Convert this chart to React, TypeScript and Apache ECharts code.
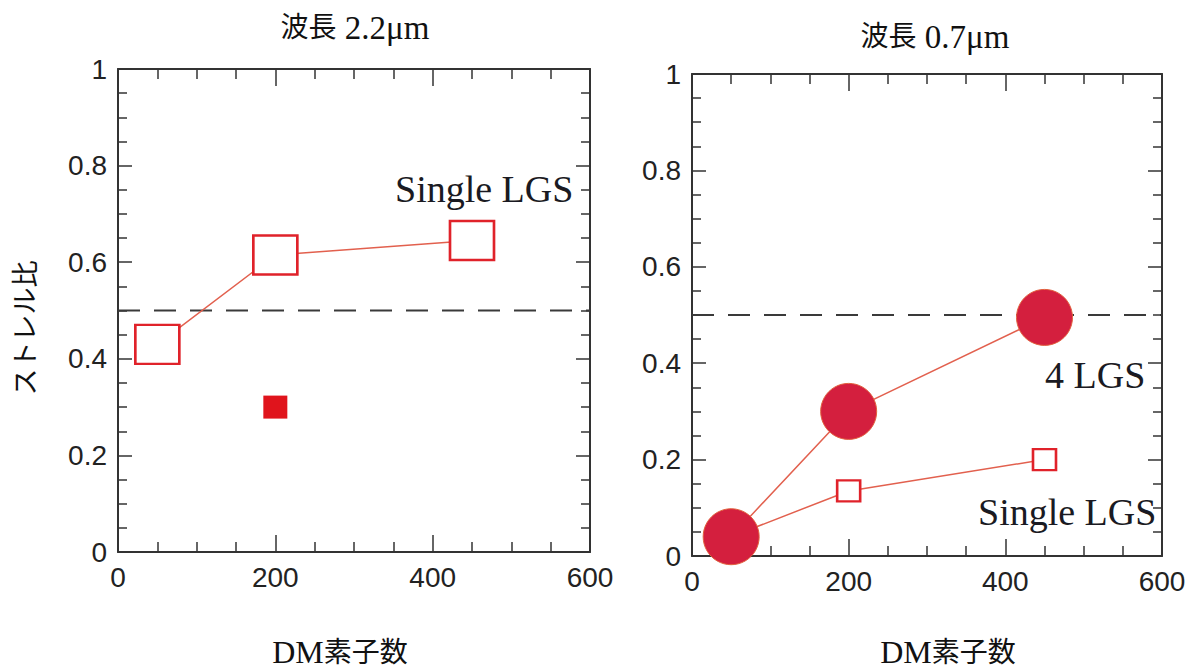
import React, { useEffect, useRef } from "react";
import * as echarts from "echarts";

// ---- data ----
const dmCounts = [50, 200, 450];
const strehl22Single = [0.43, 0.615, 0.645];
const strehl22FilledX = [200];
const strehl22Filled = [0.3];
const strehl07Four = [0.04, 0.3, 0.495];
const strehl07Single = [0.04, 0.135, 0.2];
const referenceStrehl = 0.5;
const xMin = 0, xMax = 600, xStep = 200;
const yMin = 0, yMax = 1, yStep = 0.2;
const titleWord = "波長";
const wavelengths = ["2.2μm", "0.7μm"];
const xName = "DM素子数";
const yName = "ストレル比";
const labels = ["Single LGS", "4 LGS", "Single LGS"];

const SERIF = "'Liberation Serif', 'Noto Sans CJK JP', serif";
const SANS = "'Liberation Sans', Arial, sans-serif";
const FRAME = "#333";
const OPEN_RED = "#e0222a";
const LINE_RED = "#e2604e";
const CRIMSON = "#d41f3e";

function pairs(xs: number[], ys: number[]) {
  return xs.map((x, i) => [x, ys[i]]);
}

function xAxis(grid: number, pos: "bottom" | "top") {
  const bottom = pos === "bottom";
  return {
    type: "value",
    gridIndex: grid,
    position: pos,
    min: xMin,
    max: xMax,
    interval: xStep,
    axisLine: { show: true, onZero: false, lineStyle: { color: FRAME, width: 2 } },
    axisTick: { show: true, inside: true, length: 17, lineStyle: { color: FRAME, width: 1.5 } },
    minorTick: { show: true, splitNumber: 4, length: 10, lineStyle: { color: FRAME, width: 1.5 } },
    axisLabel: { show: bottom, fontFamily: SANS, fontSize: 28, color: "#222", margin: 11 },
    splitLine: { show: false },
    minorSplitLine: { show: false },
  };
}

function yAxis(grid: number, pos: "left" | "right") {
  const left = pos === "left";
  return {
    type: "value",
    gridIndex: grid,
    position: pos,
    min: yMin,
    max: yMax,
    interval: yStep,
    axisLine: { show: true, onZero: false, lineStyle: { color: FRAME, width: 2 } },
    axisTick: { show: true, inside: true, length: 14, lineStyle: { color: FRAME, width: 1.5 } },
    minorTick: { show: true, splitNumber: 4, length: 9, lineStyle: { color: FRAME, width: 1.5 } },
    axisLabel: { show: left, fontFamily: SANS, fontSize: 28, color: "#222", margin: 11 },
    splitLine: { show: false },
    minorSplitLine: { show: false },
  };
}

function refSeries(axis: number) {
  return {
    type: "line",
    xAxisIndex: axis,
    yAxisIndex: axis,
    z: 1,
    silent: true,
    symbol: "none",
    data: [[xMin, referenceStrehl], [xMax, referenceStrehl]],
    lineStyle: { color: "#3a3a3a", width: 1.8, type: [22, 14] },
  };
}

const titleRich = {
  c: { fontFamily: SERIF, fontSize: 28, color: "#111" },
  l: { fontFamily: SERIF, fontSize: 33, color: "#111" },
};
const nameRich = {
  l: { fontFamily: SERIF, fontSize: 32, fill: "#111" },
  c: { fontFamily: SERIF, fontSize: 28, fill: "#111" },
};

function makeTitle(i: number, left: number, top: number) {
  return {
    text: `{c|${titleWord}}{l|\u00a0${wavelengths[i]}}`,
    left,
    top,
    textAlign: "center",
    textStyle: { fontWeight: "normal", rich: titleRich },
  };
}

function nameText(x: number) {
  return {
    type: "text",
    x,
    y: 652,
    style: { text: `{l|${xName.slice(0, 2)}}{c|${xName.slice(2)}}`, rich: nameRich, align: "center", verticalAlign: "middle" },
  };
}

export default function App() {
  const ref = useRef<HTMLDivElement>(null);
  useEffect(() => {
    if (!ref.current) return;
    const chart = echarts.init(ref.current, null, { renderer: "svg" });
    chart.setOption({
      animation: false,
      backgroundColor: "#fff",
      title: [makeTitle(0, 350, 6), makeTitle(1, 930, 15)],
      grid: [
        { left: 118, top: 69, width: 472, height: 483 },
        { left: 692, top: 74, width: 470, height: 482 },
      ],
      xAxis: [xAxis(0, "bottom"), xAxis(0, "top"), xAxis(1, "bottom"), xAxis(1, "top")],
      yAxis: [yAxis(0, "left"), yAxis(0, "right"), yAxis(1, "left"), yAxis(1, "right")],
      series: [
        refSeries(0),
        refSeries(2),
        {
          type: "line",
          xAxisIndex: 0,
          yAxisIndex: 0,
          z: 2,
          data: pairs(dmCounts, strehl22Single),
          symbol: "rect",
          symbolSize: [44, 39],
          itemStyle: { color: "#fff", borderColor: OPEN_RED, borderWidth: 2.5 },
          lineStyle: { color: LINE_RED, width: 1.5 },
        },
        {
          type: "scatter",
          xAxisIndex: 0,
          yAxisIndex: 0,
          z: 3,
          data: pairs(strehl22FilledX, strehl22Filled),
          symbol: "rect",
          symbolSize: [24, 23],
          itemStyle: { color: "#e0141c", opacity: 1 },
        },
        {
          type: "line",
          xAxisIndex: 2,
          yAxisIndex: 2,
          z: 2,
          data: pairs(dmCounts, strehl07Single),
          symbol: "rect",
          symbolSize: [23, 21],
          itemStyle: { color: "#fff", borderColor: OPEN_RED, borderWidth: 2.5 },
          lineStyle: { color: LINE_RED, width: 1.5 },
        },
        {
          type: "line",
          xAxisIndex: 2,
          yAxisIndex: 2,
          z: 4,
          data: pairs(dmCounts, strehl07Four),
          symbol: "circle",
          symbolSize: 56,
          itemStyle: { color: CRIMSON, borderColor: "#e2603e", borderWidth: 1 },
          lineStyle: { color: LINE_RED, width: 1.5 },
        },
      ],
      graphic: [
        { type: "text", left: 395, top: 170, style: { text: labels[0], fontFamily: SERIF, fontSize: 38, fill: "#1a1a22" } },
        { type: "text", left: 1045, top: 356, style: { text: labels[1], fontFamily: SERIF, fontSize: 38, fill: "#1a1a22" } },
        { type: "text", left: 978, top: 493, style: { text: labels[2], fontFamily: SERIF, fontSize: 38, fill: "#1a1a22" } },
        nameText(340),
        nameText(948),
        { type: "text", x: 26, y: 328, rotation: Math.PI / 2, style: { text: yName, fontFamily: SERIF, fontSize: 27, fill: "#111", align: "center", verticalAlign: "middle" } },
      ],
    });
    return () => chart.dispose();
  }, []);
  return <div ref={ref} style={{ position: "absolute", left: 0, top: 0, width: 1194, height: 669 }} />;
}
